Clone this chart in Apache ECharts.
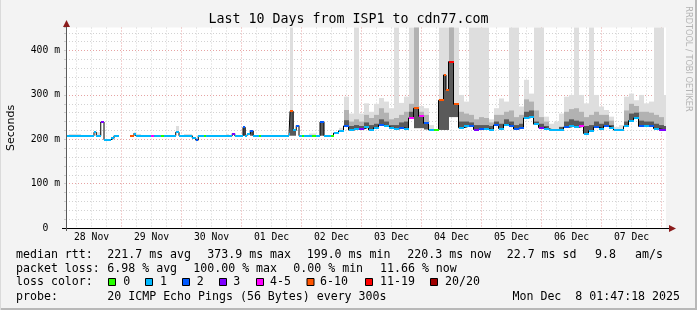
<!DOCTYPE html>
<html>
<head>
<meta charset="utf-8">
<script src="https://cdn.jsdelivr.net/npm/echarts@6/dist/echarts.min.js"></script>
<style>
  html, body { margin: 0; padding: 0; background: #f3f3f3; }
  #chart { width: 697px; height: 310px; }
</style>
</head>
<body>
<div id="chart"></div>
<script>
// x values are hours since the graph start (28 Nov 01:47:18), 10 days wide
const START_OFFSET = 1 + 47 / 60 + 18 / 3600;
const SPAN_HOURS = 240;
const Y_MAX = 452;

const dayLabels = ["28 Nov", "29 Nov", "30 Nov", "01 Dec", "02 Dec", "03 Dec", "04 Dec", "05 Dec", "06 Dec", "07 Dec"];
const lossLabels = ["0", "1", "2", "3", "4-5", "6-10", "11-19", "20/20"];
const lossColors = ["#26ff00", "#00b8ff", "#0059ff", "#7e00ff", "#ff00ff", "#ff5500", "#ff0000", "#a00000"];

// median rtt as steps: start hour of each step, value in ms, loss class
const segHour = [
  0, 1.2, 5.9, 11.2, 12.1, 13.9, 15.2, 17.9, 19.2, 21.2,
  25.6, 27.2, 27.9, 29.9, 33.9, 35.2, 37.9, 39.2, 43.9, 45.2,
  47.2, 50.5, 51.9, 52.9, 55.2, 55.9, 63.9, 65.2, 66.5, 67.5,
  70.8, 71.7, 72.5, 73.7, 74.9, 77.2, 77.9, 89.2, 89.6, 90.9,
  92.1, 93.2, 94.5, 95.2, 97.2, 98.5, 99.9, 101.6, 103.2, 105.9,
  107, 109, 111, 113, 115, 117, 119, 121, 123, 125,
  127, 129, 131, 133, 135, 137, 139, 141, 143, 145,
  147, 149, 151, 152, 153, 155, 157, 159, 161, 163,
  165, 167, 169, 171, 173, 175, 177, 179, 181, 183,
  185, 187, 189, 191, 193, 195, 197, 199, 201, 203,
  205, 207, 209, 211, 213, 215, 217, 219, 221, 223,
  225, 227, 229, 231, 233, 235, 237, 239
];
const median = [
  208, 208, 208, 216, 208, 239, 199, 202, 208, null,
  208, 213, 208, 208, 208, 208, 208, 208, 216, 208,
  208, 203, 198, 208, 208, 208, 208, 208, 213, 208,
  227, 208, 212, 219, 208, 208, 208, 212, 263, 220,
  231, 208, 208, 208, 208, 208, 208, 239, 208, 208,
  214, 219, 230, 221, 223, 223, 227, 221, 226, 232,
  229, 225, 223, 226, 224, 248, 270, 252, 236, 221,
  221, 288, 345, 311, 375, 279, 226, 229, 229, 222,
  224, 224, 221, 232, 224, 233, 229, 223, 226, 248,
  250, 234, 226, 224, 221, 221, 221, 227, 229, 227,
  229, 213, 219, 227, 224, 230, 226, 221, 221, 229,
  242, 248, 229, 229, 229, 224, 222, 222
];
const lossClass = [
  1, 1, 1, 1, 1, 3, 1, 1, 1, null,
  5, 1, 1, 1, 4, 1, 0, 1, 1, 1,
  1, 1, 2, 1, 0, 1, 1, 1, 3, 1,
  2, 1, 1, 2, 1, 0, 1, 1, 5, 1,
  2, 1, 0, 1, 1, 0, 1, 2, 1, 0,
  1, 1, 2, 1, 1, 3, 1, 1, 1, 2,
  1, 1, 1, 2, 1, 4, 5, 4, 2, 1,
  0, 5, 5, 5, 6, 5, 1, 1, 2, 3,
  2, 1, 1, 2, 1, 1, 2, 2, 2, 1,
  1, 1, 3, 1, 1, 1, 1, 2, 1, 1,
  4, 1, 1, 2, 1, 2, 1, 1, 1, 1,
  1, 1, 2, 1, 2, 1, 3, 3
];
// smoke: dark band spans median..smokeDark, mid and light bands rise from the median
const smokeDark = [
  null, null, null, null, null, null, null, null, null, null,
  null, null, null, null, null, null, null, null, null, null,
  null, null, null, null, null, null, null, null, null, null,
  208, null, null, 208, null, null, null, null, 208, 208,
  null, null, null, null, null, null, null, 208, null, null,
  null, null, 243, 230, 232, 230, 238, 232, 235, 245,
  240, 232, 232, 238, 240, 262, 225, 225, 222, null,
  null, 221, 221, 221, 250, 250, 240, 240, 238, 232,
  232, 232, 230, 240, 235, 245, 240, 232, 235, 262,
  265, 240, 235, 230, null, null, 228, 240, 245, 242,
  240, 230, 232, 240, 235, 240, 232, null, null, 240,
  258, 260, 242, 240, 240, 235, 232, 230
];
const smokeMid = [
  null, null, null, null, null, null, null, null, null, null,
  null, null, null, null, null, null, null, null, null, null,
  null, null, null, null, null, null, null, null, null, null,
  null, null, null, null, null, null, null, null, null, null,
  null, null, null, null, null, null, null, null, null, null,
  null, null, 266, 240, 245, 240, 255, 248, 255, 270,
  260, 245, 248, 255, 262, 280, 452, 262, 255, null,
  null, null, null, null, 452, null, 262, 258, 255, 245,
  250, 248, 238, 255, 255, 262, 265, 250, 255, 290,
  285, 265, 250, 240, null, null, null, 262, 268, 270,
  262, 250, 255, 262, 255, 255, 242, null, null, 265,
  280, 275, 262, 262, 260, 255, 250, null
];
const smokeLight = [
  null, 212, null, 218, 216, null, null, null, null, null,
  null, 216, 212, null, null, null, null, null, 230, null,
  212, null, null, null, null, null, 212, null, null, null,
  null, null, null, null, null, null, null, null, 452, null,
  null, null, null, null, 213, 213, null, null, null, null,
  null, 226, 296, 258, 452, 258, 281, 262, 280, 293,
  285, 270, 452, 282, 296, 452, 452, 275, 270, 232,
  null, 452, 452, 452, 452, 452, 300, 285, 452, 452,
  452, 452, 245, 270, 292, 285, 452, 452, 274, 334,
  303, 452, 452, 251, 235, 240, 258, 296, 300, 452,
  300, 281, 452, 300, 274, 266, 251, 228, 232, 296,
  303, 288, 300, 281, 285, 452, 452, 300
];

const rttStats = ["221.7 ms avg", "373.9 ms max", "199.0 ms min", "220.3 ms now", "22.7 ms sd", "9.8", "am/s"];
const lossStats = ["6.98 % avg", "100.00 % max", "0.00 % min", "11.66 % now"];

// grid every 6 hours, labels at noon of each day
const gridHours = [];
for (let h = 6 - START_OFFSET; h < SPAN_HOURS; h += 6) gridHours.push(h);
const labelHours = dayLabels.map((_, d) => 12 - START_OFFSET + 24 * d);

const segEnd = (i) => (i + 1 < segHour.length ? segHour[i + 1] : SPAN_HOURS);

const MONO = '"DejaVu Sans Mono", monospace';
const minorGrid = "#d2d2d2";
const majorGrid = "#e6a3a3";

function renderSmoke(params, api) {
  const i = params.dataIndex;
  const med = median[i];
  if (med == null) return null;
  const x0 = Math.round(api.coord([segHour[i], 0])[0]);
  const x1 = Math.round(api.coord([segEnd(i), 0])[0]);
  const children = [];
  const band = (lo, hi, fill) => {
    const yTop = api.coord([0, Math.min(hi, Y_MAX)])[1];
    const yBot = api.coord([0, lo])[1];
    children.push({
      type: "rect",
      shape: { x: x0, y: yTop, width: x1 - x0, height: yBot - yTop },
      style: { fill: fill },
    });
  };
  if (smokeLight[i] != null) band(med, smokeLight[i], "#dedede");
  if (smokeMid[i] != null) band(med, smokeMid[i], "#b2b2b2");
  if (smokeDark[i] != null) band(Math.min(med, smokeDark[i]), Math.max(med, smokeDark[i]), "#5a5a5a");
  return { type: "group", children: children };
}

function renderMedian(params, api) {
  const i = params.dataIndex;
  if (median[i] == null) return null;
  const x0 = Math.round(api.coord([segHour[i], 0])[0]);
  const x1 = Math.round(api.coord([segEnd(i), 0])[0]);
  const y = Math.round(api.coord([0, median[i]])[1]);
  return {
    type: "rect",
    shape: { x: x0, y: y - 1, width: x1 - x0, height: 2 },
    style: { fill: lossColors[lossClass[i]] },
  };
}

// black step line carrying the vertical jumps of the median
const stepData = segHour.map((h, i) => [h, median[i]]);
stepData.push([SPAN_HOURS, median[median.length - 1]]);

function txt(x, y, text, font, extra) {
  return {
    type: "text",
    z: 100,
    style: Object.assign({
      x: x, y: y, text: text, font: font, fill: "#000",
      align: "left", textAlign: "left", verticalAlign: "middle", textVerticalAlign: "middle",
    }, extra || {}),
  };
}

const LEG_FONT = "11.6px " + MONO;
const rttX = [107.3, 207.3, 306.7, 407.3, 506.7, 595, 635];
const lossX = [107.3, 193.3, 293.3, 380];
const boxX = [108, 145, 182, 219, 256, 306.5, 365, 430];
const boxTextX = [123.3, 160, 196.7, 233.3, 270, 320, 380, 445];

const graphics = [];
graphics.push(txt(348.5, 20, "Last 10 Days from ISP1 to cdn77.com", "13.3px " + MONO, { align: "center", textAlign: "center" }));
graphics.push({
  type: "text", z: 100, x: 11, y: 128, rotation: Math.PI / 2,
  style: { text: "Seconds", font: '11px "DejaVu Sans"', fill: "#000", align: "center", textAlign: "center", verticalAlign: "middle", textVerticalAlign: "middle" },
});
graphics.push({
  type: "text", z: 100, x: 688, y: 59, rotation: -Math.PI / 2,
  style: { text: "RRDTOOL / TOBI OETIKER", font: '8.2px "DejaVu Sans"', fill: "#b4b4b4", align: "center", textAlign: "center", verticalAlign: "middle", textVerticalAlign: "middle" },
});
// frame
graphics.push({ type: "rect", z: 100, shape: { x: 0, y: 308, width: 697, height: 2 }, style: { fill: "#b8b8b8" } });
graphics.push({ type: "rect", z: 100, shape: { x: 695, y: 0, width: 2, height: 310 }, style: { fill: "#b8b8b8" } });
graphics.push({ type: "rect", z: 100, shape: { x: 0, y: 0, width: 1, height: 310 }, style: { fill: "#dadada" } });
// axes with arrows
graphics.push({ type: "line", z: 100, shape: { x1: 62, y1: 228.5, x2: 670, y2: 228.5 }, style: { stroke: "#000", lineWidth: 1 } });
graphics.push({ type: "polygon", z: 101, shape: { points: [[669, 225], [676, 228.5], [669, 232]] }, style: { fill: "#8b1c1c" } });
graphics.push({ type: "line", z: 100, shape: { x1: 66.5, y1: 231, x2: 66.5, y2: 25 }, style: { stroke: "#5a5a5a", lineWidth: 1 } });
graphics.push({ type: "polygon", z: 101, shape: { points: [[63, 27], [66.5, 20], [70, 27]] }, style: { fill: "#8b1c1c" } });
// legend lines
graphics.push(txt(16, 254.5, "median rtt:", LEG_FONT));
rttStats.forEach((s, i) => graphics.push(txt(rttX[i], 254.5, s, LEG_FONT)));
graphics.push(txt(16, 268.5, "packet loss:", LEG_FONT));
lossStats.forEach((s, i) => graphics.push(txt(lossX[i], 268.5, s, LEG_FONT)));
graphics.push(txt(16, 282.3, "loss color:", LEG_FONT));
lossLabels.forEach((s, i) => {
  graphics.push({
    type: "rect", z: 100,
    shape: { x: boxX[i] + 0.5, y: 278.5, width: 7, height: 7 },
    style: { fill: lossColors[i], stroke: "#000", lineWidth: 1 },
  });
  graphics.push(txt(boxTextX[i], 282.3, s, LEG_FONT));
});
graphics.push(txt(16, 296.5, "probe:", LEG_FONT));
graphics.push(txt(107.3, 296.5, "20 ICMP Echo Pings (56 Bytes) every 300s", LEG_FONT));
graphics.push(txt(680, 296.5, "Mon Dec  8 01:47:18 2025", LEG_FONT, { align: "right", textAlign: "right" }));

const chart = echarts.init(document.getElementById("chart"), null, { renderer: "canvas" });
chart.setOption({
  animation: false,
  backgroundColor: "#f3f3f3",
  grid: { left: 66, top: 27.5, width: 600, height: 200.5, show: true, backgroundColor: "#ffffff", borderWidth: 0 },
  xAxis: {
    type: "value",
    min: 0,
    max: SPAN_HOURS,
    axisLine: { show: false },
    axisTick: { show: false, customValues: gridHours },
    axisLabel: {
      customValues: labelHours,
      formatter: (v) => dayLabels[Math.round((v - labelHours[0]) / 24)],
      fontFamily: MONO,
      fontSize: 9.75,
      color: "#000",
      margin: 4,
    },
    splitLine: {
      show: true,
      lineStyle: { color: [minorGrid, minorGrid, minorGrid, majorGrid], width: 1, type: [1, 2] },
    },
  },
  yAxis: {
    type: "value",
    min: 0,
    max: Y_MAX,
    interval: 20,
    axisLine: { show: false },
    axisTick: { show: true, length: 2, lineStyle: { color: "#cccccc" } },
    axisLabel: {
      formatter: (v) => (v === 0 ? "0  " : v % 100 === 0 ? v + " m" : ""),
      fontFamily: MONO,
      fontSize: 9.75,
      color: "#000",
      margin: 6,
    },
    splitLine: {
      show: true,
      showMaxLine: false,
      lineStyle: { color: [majorGrid, minorGrid, minorGrid, minorGrid, minorGrid], width: 1, type: [1, 2] },
    },
  },
  series: [
    {
      type: "custom",
      name: "smoke",
      z: 2,
      renderItem: renderSmoke,
      data: segHour.map((h, i) => [h, median[i]]),
      silent: true,
    },
    {
      type: "line",
      name: "median step",
      z: 3,
      step: "end",
      symbol: "none",
      data: stepData,
      lineStyle: { color: "#000", width: 1 },
      silent: true,
    },
    {
      type: "custom",
      name: "median loss",
      z: 4,
      renderItem: renderMedian,
      data: segHour.map((h, i) => [h, median[i]]),
      silent: true,
    },
  ],
  graphic: graphics,
});
</script>
</body>
</html>
